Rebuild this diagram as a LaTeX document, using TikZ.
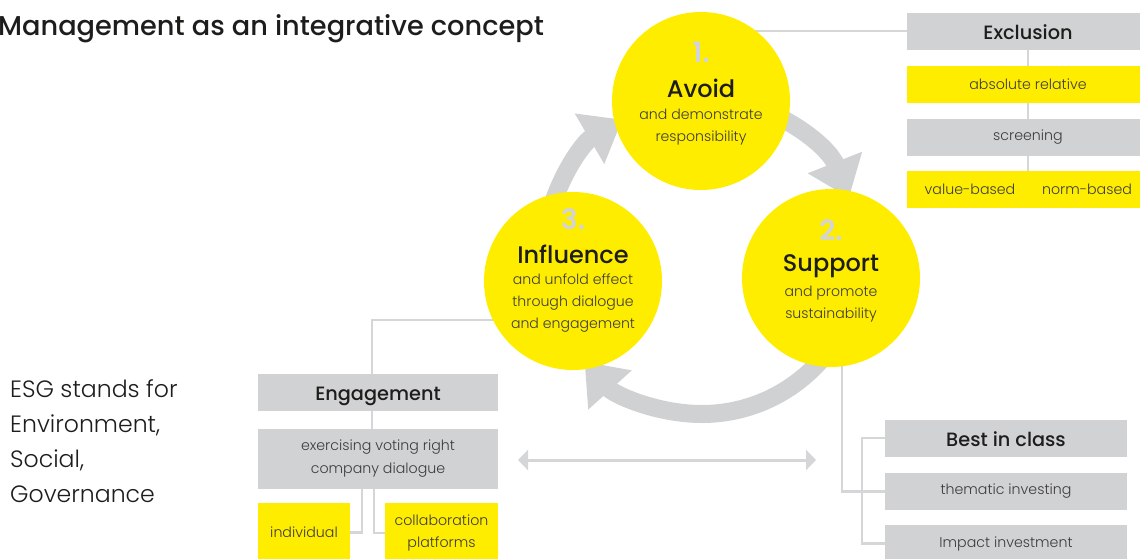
\documentclass[tikz,border=0pt]{standalone}
\usepackage{fontspec}
\setmainfont{Poppins}[UprightFont={* Light},BoldFont={* Medium}]
\newfontfamily\numfont{Poppins}[UprightFont={* SemiBold}]
\usetikzlibrary{arrows.meta,positioning}
\definecolor{ecyellow}{HTML}{FFED00}
\definecolor{ecgray}{HTML}{D1D2D4}
\definecolor{arrgray}{HTML}{D0D1D3}
\definecolor{linegray}{HTML}{D5D6D8}
\definecolor{numgray}{HTML}{D3D4D6}
\definecolor{darktext}{HTML}{1D1D1B}
\definecolor{lighttext}{HTML}{3C3C3B}
\pgfdeclarelayer{bg}
\pgfsetlayers{bg,main}
\tikzset{
  circ/.style={circle,fill=ecyellow,minimum size=178pt,inner sep=0pt},
  num/.style={font=\fontsize{28}{28}\numfont\selectfont,text=numgray,inner sep=0pt},
  ctitle/.style={font=\fontsize{24}{24}\bfseries\selectfont,text=darktext,inner sep=0pt},
  csub/.style={font=\fontsize{14.1}{22}\selectfont,text=lighttext,align=center,inner sep=0pt},
  gbox/.style={fill=ecgray,minimum width=242pt,minimum height=37pt,inner sep=0pt},
  ybox/.style={fill=ecyellow,minimum width=242pt,minimum height=37pt,inner sep=0pt},
  hdr/.style={font=\fontsize{19.3}{19.3}\bfseries\selectfont,text=darktext,text height=16.5pt,text depth=0pt},
  btxt/.style={font=\fontsize{14.2}{22.5}\selectfont,text=lighttext,align=center},
  conn/.style={draw=linegray,line width=2.5pt},
  ringarr/.style={draw=arrgray,line width=18pt,-{Triangle[width=56pt,length=38pt]}},
  darr/.style={draw=linegray,line width=3pt,{Triangle[width=20pt,length=10pt]}-{Triangle[width=20pt,length=10pt]}},
}
\begin{document}
\begin{tikzpicture}[x=1pt,y=1pt]
\useasboundingbox (0,0) rectangle (1140,-558);
% title
\node[anchor=base west,inner sep=0pt,font=\fontsize{27.2}{27.2}\bfseries\selectfont,text=darktext] (title) at (-2,-35) {Management as an integrative concept};
% ESG
\node[anchor=north west,inner sep=0pt,align=left,font=\fontsize{23.6}{35}\selectfont,text=darktext] (esg) at (10,-379.5) {ESG stands for\\Environment,\\Social,\\Governance};
% ring
\coordinate (c) at (702,-256);
\draw[ringarr] (c) ++(170:158) arc[start angle=170,end angle=120.3,radius=158];
\draw[ringarr] (c) ++(80:158) arc[start angle=80,end angle=21.6,radius=158];
\draw[ringarr] (c) ++(-30:158) arc[start angle=-30,end angle=-138,radius=158];
% circles
\node[circ] (av) at (701,-101) {};
\node[circ] (su) at (831,-278) {};
\node[circ] (inf) at (573,-281) {};
\node[num] (n1) at (701,-52) {1.};
\node[ctitle] (t1) at (701,-88) {Avoid};
\node[csub] (s1) at (701,-127) {and demonstrate\\responsibility};
\node[num] (n2) at (831,-230) {2.};
\node[ctitle] (t2) at (831,-266) {Support};
\node[csub] (s2) at (831,-304) {and promote\\sustainability};
\node[num] (n3) at (573,-219) {3.};
\node[ctitle] (t3) at (573,-254) {Influence};
\node[csub] (s3) at (573,-303.5) {and unfold effect\\through dialogue\\and engagement};
% Exclusion
\node[gbox,hdr] (exh) at (1028,-31) {Exclusion};
\node[ybox,btxt] (exa) at (1028,-84.5) {absolute relative};
\node[gbox,btxt] (exs) at (1028,-137.5) {screening};
\node[ybox] (exv) at (1028,-189) {};
\node[btxt,inner sep=0pt] (exv1) at (970,-189.5) {value-based};
\node[btxt,inner sep=0pt] (exv2) at (1087,-189.5) {norm-based};
% Engagement
\node[gbox,hdr,minimum width=240pt] (engh) at (378,-392) {Engagement};
\node[gbox,btxt,minimum width=240pt,minimum height=60pt] (engd) at (378,-458.5) {exercising voting right\\company dialogue};
\node[ybox,btxt,minimum width=92pt,minimum height=60pt] (ind) at (304,-532.5) {individual};
\node[ybox,btxt,minimum width=113pt,minimum height=60pt] (col) at (441.5,-533) {collaboration\\platforms};
% Best in class
\node[gbox,hdr] (bic) at (1006,-438) {Best in class};
\node[gbox,btxt] (them) at (1006,-491.5) {thematic investing};
\node[gbox,btxt] (imp) at (1006,-543.5) {Impact investment};
% double arrow
\coordinate (dl) at (518,-460);
\coordinate (dr) at (816,-460);
\draw[darr] (dl) -- (dr);
% connectors
\begin{pgfonlayer}{bg}
\draw[conn] (exh.west) -- (exh.west -| av.center);
\draw[conn] (exh.center) -- (exv.center);
\draw[conn] ([yshift=-39pt]inf.center) -| ([xshift=-6pt]engd.center);
\draw[conn] (engd.south -| 362,0) |- (ind.east);
\draw[conn] (engd.south -| 374,0) |- (col.west);
\draw[conn] ([xshift=11pt]su.center) |- (them.west);
\draw[conn] (bic.west) -- ++(-23,0) |- (imp.west);
\end{pgfonlayer}
\end{tikzpicture}
\end{document}
